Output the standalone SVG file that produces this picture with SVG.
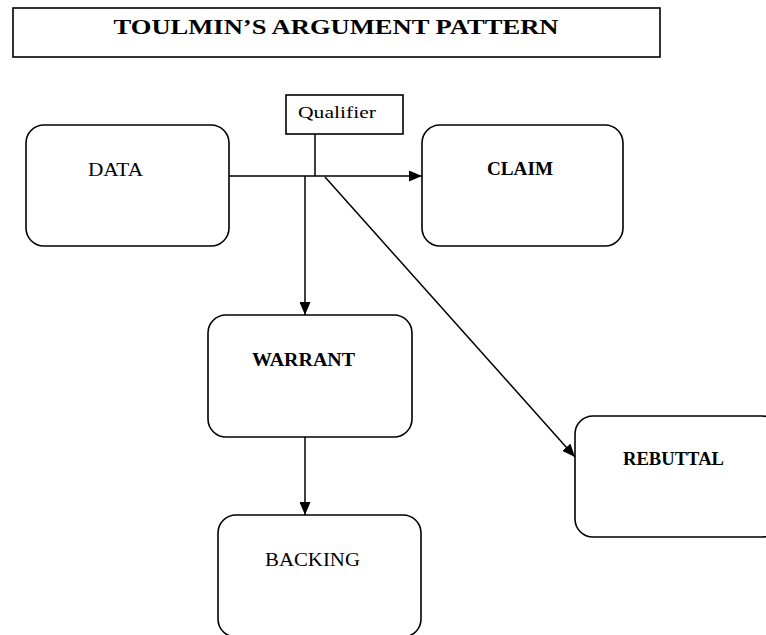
<svg xmlns="http://www.w3.org/2000/svg" width="766" height="635" viewBox="0 0 766 635">
<defs>
<style>
.box{fill:#fff;stroke:#000;stroke-width:1.6}
.rbox{fill:#fff;stroke:#000;stroke-width:1.6}
.t{font-family:"Liberation Serif","DejaVu Serif",serif;fill:#000}
.b{font-weight:bold}
.ln{stroke:#000;stroke-width:1.5;fill:none}
</style>
<marker id="ah" viewBox="0 0 13 11" refX="13" refY="5.5" markerWidth="13" markerHeight="11" markerUnits="userSpaceOnUse" orient="auto">
<path d="M0,0 L13,5.5 L0,11 Z" fill="#000"/>
</marker>
</defs>
<rect width="766" height="635" fill="#fff"/>
<g id="title">
<rect class="box" x="13" y="8" width="647" height="49"/>
<text class="t b" x="336" y="34" font-size="22" text-anchor="middle" textLength="445" lengthAdjust="spacingAndGlyphs">TOULMIN’S ARGUMENT PATTERN</text>
</g>
<g id="qualifier">
<rect class="box" x="286" y="95" width="117" height="39"/>
<text class="t" x="298" y="118" font-size="17" textLength="78" lengthAdjust="spacingAndGlyphs">Qualifier</text>
</g>
<g id="data">
<rect class="rbox" x="26" y="125" width="203" height="121" rx="18"/>
<text class="t" x="88" y="176" font-size="18" textLength="55" lengthAdjust="spacingAndGlyphs">DATA</text>
</g>
<g id="claim">
<rect class="rbox" x="422" y="125" width="201" height="121" rx="18"/>
<text class="t b" x="487" y="175" font-size="18" textLength="66" lengthAdjust="spacingAndGlyphs">CLAIM</text>
</g>
<g id="warrant">
<rect class="rbox" x="208" y="315" width="204" height="122" rx="18"/>
<text class="t b" x="252" y="366" font-size="18" textLength="103" lengthAdjust="spacingAndGlyphs">WARRANT</text>
</g>
<g id="rebuttal">
<rect class="rbox" x="575" y="416" width="205" height="121" rx="18"/>
<text class="t b" x="623" y="465" font-size="18" textLength="101" lengthAdjust="spacingAndGlyphs">REBUTTAL</text>
</g>
<g id="backing">
<rect class="rbox" x="218" y="515" width="203" height="122" rx="18"/>
<text class="t" x="265" y="566" font-size="18" textLength="95" lengthAdjust="spacingAndGlyphs">BACKING</text>
</g>
<g id="connectors">
<line class="ln" x1="229" y1="176" x2="422" y2="176" marker-end="url(#ah)"/>
<line class="ln" x1="315" y1="134" x2="315" y2="176"/>
<line class="ln" x1="305" y1="176" x2="305" y2="315" marker-end="url(#ah)"/>
<line class="ln" x1="325" y1="177" x2="575" y2="457" marker-end="url(#ah)"/>
<line class="ln" x1="305" y1="437" x2="305" y2="515" marker-end="url(#ah)"/>
</g>
</svg>
